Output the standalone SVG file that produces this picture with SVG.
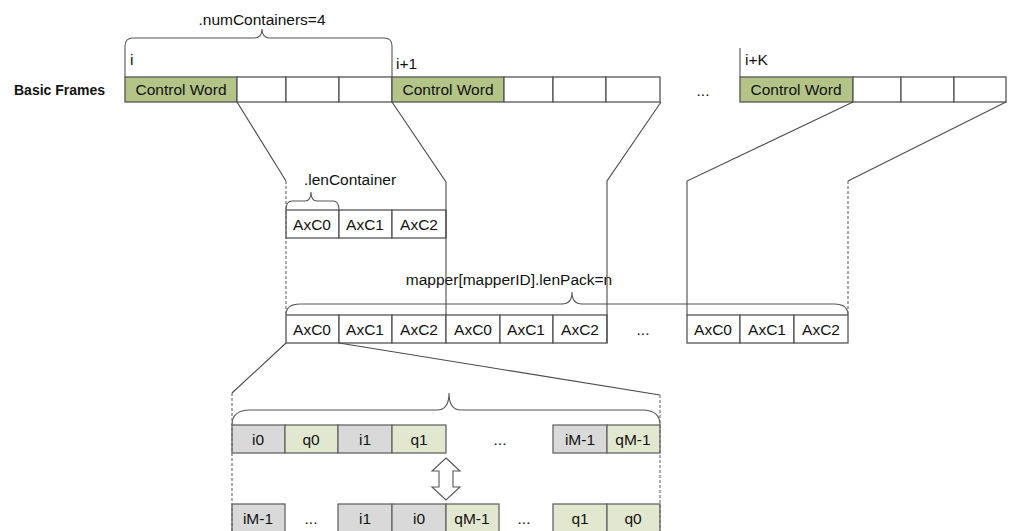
<svg xmlns="http://www.w3.org/2000/svg" width="1013" height="531" viewBox="0 0 1013 531">
  <style>
    text { font-family: "Liberation Sans", Arial, sans-serif; font-size: 15.5px; fill: #111; }
    .c { text-anchor: middle; }
    .b { font-weight: bold; font-size: 14px; }
    .cw { fill: #B4C487; stroke: #555; stroke-width: 1.3; }
    .w { fill: #fff; stroke: #555; stroke-width: 1.3; }
    .gi { fill: #D9D9D9; stroke: #666; stroke-width: 1.3; }
    .gq { fill: #E2E8D0; stroke: #666; stroke-width: 1.3; }
    .ln { fill: none; stroke: #4a4a4a; stroke-width: 1.1; }
    .dash { fill: none; stroke: #666; stroke-width: 1.1; stroke-dasharray: 3 2; }
    .br { fill: none; stroke: #555; stroke-width: 1.1; }
  </style>

  <text class="b" x="14" y="95">Basic Frames</text>

  <!-- frame i -->
  <g id="frame-i">
    <rect class="cw" x="125" y="77" width="112" height="25"/>
    <rect class="w" x="237" y="77" width="49" height="25"/>
    <rect class="w" x="286" y="77" width="53" height="25"/>
    <rect class="w" x="339" y="77" width="53" height="25"/>
    <text class="c" x="181" y="95">Control Word</text>
    <text x="130" y="65">i</text>
  </g>

  <!-- frame i+1 -->
  <g id="frame-i1">
    <rect class="cw" x="392" y="77" width="112" height="25"/>
    <rect class="w" x="504" y="77" width="49" height="25"/>
    <rect class="w" x="553" y="77" width="53" height="25"/>
    <rect class="w" x="606" y="77" width="54" height="25"/>
    <text class="c" x="448" y="95">Control Word</text>
    <text x="396" y="69">i+1</text>
  </g>

  <text class="c" x="703" y="96">...</text>

  <!-- frame i+K -->
  <g id="frame-iK">
    <line class="br" x1="740" y1="48" x2="740" y2="77"/>
    <rect class="cw" x="740" y="77" width="113" height="25"/>
    <rect class="w" x="853" y="77" width="48" height="25"/>
    <rect class="w" x="901" y="77" width="53" height="25"/>
    <rect class="w" x="954" y="77" width="52" height="25"/>
    <text class="c" x="796" y="95">Control Word</text>
    <text x="745" y="65">i+K</text>
  </g>

  <!-- brace over frame i -->
  <g id="brace-numContainers">
    <path class="br" d="M125,77 L125,46 Q125,38 133,38 L254,38 Q262,38 262,29 Q262,38 270,38 L384,38 Q392,38 392,46 L392,77"/>
    <text class="c" x="262" y="25">.numContainers=4</text>
  </g>

  <!-- single container set -->
  <g id="containers">
    <rect class="w" x="286" y="210" width="53" height="28"/>
    <rect class="w" x="339" y="210" width="53" height="28"/>
    <rect class="w" x="392" y="210" width="54" height="28"/>
    <text class="c" x="312" y="230">AxC0</text>
    <text class="c" x="365" y="230">AxC1</text>
    <text class="c" x="419" y="230">AxC2</text>
    <path class="br" d="M286,210 Q286,201 292,201 L305,201 Q311,201 311,192 Q311,201 317,201 L333,201 Q339,201 339,210"/>
    <text class="c" x="350" y="185">.lenContainer</text>
  </g>

  <!-- packed containers -->
  <g id="pack">
    <rect class="w" x="286" y="315" width="53" height="28"/>
    <rect class="w" x="339" y="315" width="53" height="28"/>
    <rect class="w" x="392" y="315" width="54" height="28"/>
    <rect class="w" x="446" y="315" width="54" height="28"/>
    <rect class="w" x="500" y="315" width="53" height="28"/>
    <rect class="w" x="553" y="315" width="54" height="28"/>
    <text class="c" x="312" y="335">AxC0</text>
    <text class="c" x="365" y="335">AxC1</text>
    <text class="c" x="419" y="335">AxC2</text>
    <text class="c" x="473" y="335">AxC0</text>
    <text class="c" x="526" y="335">AxC1</text>
    <text class="c" x="580" y="335">AxC2</text>
    <text class="c" x="643" y="335">...</text>
    <rect class="w" x="687" y="315" width="53" height="28"/>
    <rect class="w" x="740" y="315" width="54" height="28"/>
    <rect class="w" x="794" y="315" width="54" height="28"/>
    <text class="c" x="713" y="335">AxC0</text>
    <text class="c" x="767" y="335">AxC1</text>
    <text class="c" x="821" y="335">AxC2</text>
    <path class="br" d="M286,315 Q286,304 300,304 L562,304 Q572,304 572,292 Q572,304 582,304 L834,304 Q848,304 848,315"/>
    <text class="c" x="509" y="285">mapper[mapperID].lenPack=n</text>
  </g>

  <!-- IQ samples of one container -->
  <g id="samples">
    <path class="br" d="M232,425 Q232,410 250,410 L437,410 Q449,410 449,393 Q449,410 461,410 L642,410 Q660,410 660,425"/>
    <rect class="gi" x="232" y="425" width="53" height="28"/>
    <rect class="gq" x="285" y="425" width="53" height="28"/>
    <rect class="gi" x="338" y="425" width="54" height="28"/>
    <rect class="gq" x="392" y="425" width="54" height="28"/>
    <text class="c" x="258" y="445">i0</text>
    <text class="c" x="311" y="445">q0</text>
    <text class="c" x="365" y="445">i1</text>
    <text class="c" x="419" y="445">q1</text>
    <text class="c" x="500" y="445">...</text>
    <rect class="gi" x="553" y="425" width="54" height="28"/>
    <rect class="gq" x="607" y="425" width="53" height="28"/>
    <text class="c" x="580" y="445">iM-1</text>
    <text class="c" x="633" y="445">qM-1</text>
  </g>

  <g id="swap-arrow">
    <path fill="#fff" stroke="#555" stroke-width="1.1" d="M446,458 L460,471 L453,471 L453,487 L460,487 L446,500 L432,487 L439,487 L439,471 L432,471 Z"/>
  </g>

  <g id="samples-reordered">
    <rect class="gi" x="232" y="504" width="53" height="28"/>
    <text class="c" x="258" y="524">iM-1</text>
    <text class="c" x="311" y="524">...</text>
    <rect class="gi" x="338" y="504" width="54" height="28"/>
    <rect class="gi" x="392" y="504" width="54" height="28"/>
    <rect class="gq" x="446" y="504" width="53" height="28"/>
    <text class="c" x="365" y="524">i1</text>
    <text class="c" x="419" y="524">i0</text>
    <text class="c" x="472" y="524">qM-1</text>
    <text class="c" x="524" y="524">...</text>
    <rect class="gq" x="553" y="504" width="54" height="28"/>
    <rect class="gq" x="607" y="504" width="53" height="28"/>
    <text class="c" x="580" y="524">q1</text>
    <text class="c" x="633" y="524">q0</text>
  </g>

  <!-- expansion lines -->
  <g id="connectors">
    <polyline class="ln" points="237,102 286,181"/>
    <line class="dash" x1="286" y1="181" x2="286" y2="315"/>
    <polyline class="ln" points="392,102 446,182 446,315"/>
    <polyline class="ln" points="661,102 607,181 607,343"/>
    <polyline class="ln" points="853,102 687,181 687,315"/>
    <polyline class="ln" points="1006,102 848,181"/>
    <line class="dash" x1="848" y1="181" x2="848" y2="315"/>
    <polyline class="ln" points="286,343 232,393"/>
    <line class="dash" x1="232" y1="393" x2="232" y2="531"/>
    <polyline class="ln" points="339,343 660,395"/>
    <line class="dash" x1="660" y1="395" x2="660" y2="531"/>
  </g>
</svg>
